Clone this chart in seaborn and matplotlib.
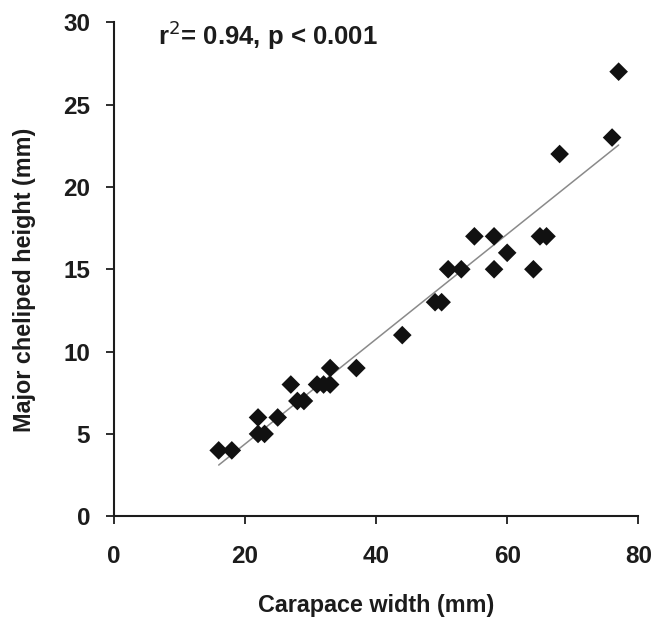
import numpy as np
import pandas as pd
import matplotlib
matplotlib.use("Agg")
import matplotlib.pyplot as plt
import seaborn as sns

carapace_width = [16, 18, 22, 22, 23, 25, 27, 28, 29, 31, 32, 33, 33, 37, 44,
                  49, 50, 51, 53, 55, 58, 58, 60, 64, 65, 66, 68, 76, 77]
cheliped_height = [4, 4, 6, 5, 5, 6, 8, 7, 7, 8, 8, 8, 9, 9, 11,
                   13, 13, 15, 15, 17, 17, 15, 16, 15, 17, 17, 22, 23, 27]
x_ticks = [0, 20, 40, 60, 80]
y_ticks = [0, 5, 10, 15, 20, 25, 30]

df = pd.DataFrame({"w": carapace_width, "h": cheliped_height})

sns.set_style("ticks")
plt.rcParams['font.family'] = ['Liberation Sans', 'DejaVu Sans']

TXT = "#1c1c1c"
fig = plt.figure(figsize=(6.54, 6.19), dpi=100)
ax = fig.add_axes([0.174, 0.166, 0.802, 0.798])

sns.regplot(data=df, x="w", y="h", ax=ax, ci=None, truncate=True,
            marker="D",
            scatter_kws=dict(s=90, color="#111111", edgecolors="none", alpha=1, zorder=3),
            line_kws=dict(color="#8a8a8a", lw=1.1, zorder=2))

ax.set_xlim(0, 80)
ax.set_ylim(0, 30)
ax.set_xticks(x_ticks)
ax.set_yticks(y_ticks)
ax.set_xticklabels([str(v) for v in x_ticks], fontsize=17.5, fontweight="bold", color=TXT)
ax.set_yticklabels([str(v) for v in y_ticks], fontsize=17.5, fontweight="bold", color=TXT)
ax.tick_params(axis="x", direction="out", length=6, width=1.3, pad=15, colors=TXT)
ax.tick_params(axis="y", direction="out", length=6, width=1.3, pad=11, colors=TXT)
for s in ["left", "bottom"]:
    ax.spines[s].set_linewidth(1.5)
    ax.spines[s].set_color(TXT)
sns.despine(ax=ax)

ax.set_xlabel("Carapace width (mm)", fontsize=16.8, fontweight="bold", color=TXT)
ax.set_ylabel("Major cheliped height (mm)", fontsize=16.8, fontweight="bold", color=TXT)
ax.xaxis.set_label_coords(0.5, -0.158)
ax.yaxis.set_label_coords(-0.149, 0.478)

ax.text(6.7, 29.2, "r$^{2}$= 0.94, p < 0.001", fontsize=18.5, fontweight="bold",
        color=TXT, ha="left", va="center")

fig.savefig("out.png", dpi=100)
